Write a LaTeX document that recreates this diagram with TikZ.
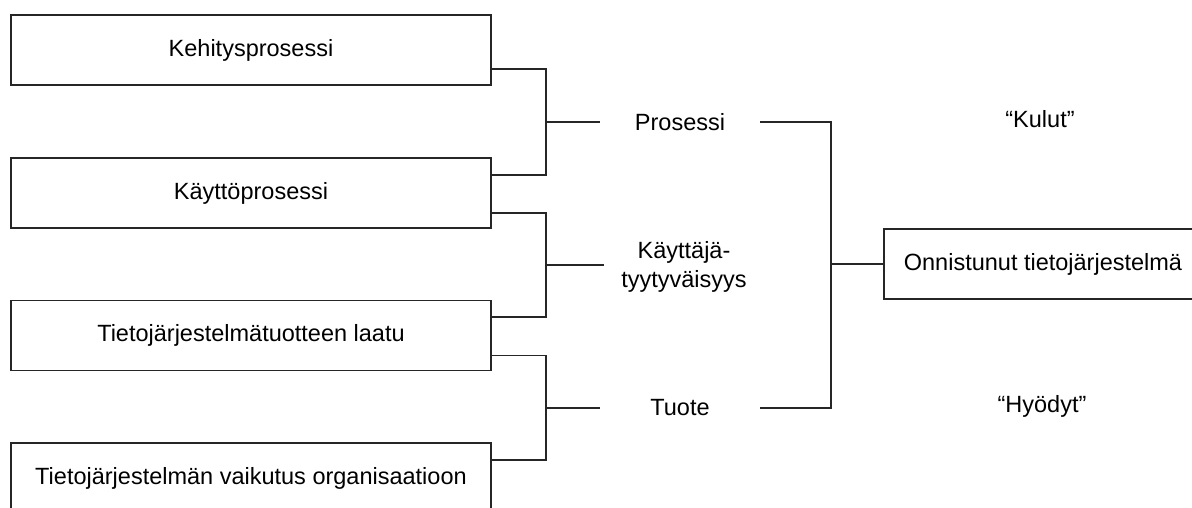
\documentclass[tikz,border=0pt]{standalone}
\usepackage{fontspec}
\setmainfont{Liberation Sans}
\begin{document}
\begin{tikzpicture}[x=1pt,y=-1pt,
  every node/.style={font=\fontsize{23.5}{29}\selectfont, text=black},
  box/.style={draw=black!85, line width=1.8pt, minimum width=480pt, minimum height=70pt, inner sep=0pt},
  okbox/.style={draw=black!85, line width=1.8pt, minimum width=318pt, minimum height=70pt, inner sep=0pt},
  mid/.style={minimum width=160pt, inner sep=0pt, align=center},
  conn/.style={draw=black!85, line width=1.8pt}]
\useasboundingbox (0,0) rectangle (1192,508);
\clip (0,0) rectangle (1192,508);
\fill[white] (0,0) rectangle (1192,508);

\node[box] (k1) at (251,50) {Kehitysprosessi};
\node[box] (k2) at (251,193) {Käyttöprosessi};
\node[box] (k3) at (251,335.5) {Tietojärjestelmätuotteen laatu};
\node[box] (k4) at (251,478) {Tietojärjestelmän vaikutus organisaatioon};

\coordinate (j1) at (546,122);
\coordinate (j2) at (546,265);
\coordinate (j3) at (546,408);
\coordinate (j4) at (831,264);

\node[mid] (p) at (680,122) {Prosessi};
\node[mid] (u) at (684,267) {Käyttäjä-\\tyytyväisyys};
\node[mid] (t) at (680,408) {Tuote};

\node[okbox] (o) at (1043,264) {Onnistunut tietojärjestelmä};
\node (ku) at (1040,119) {“Kulut”};
\node (hy) at (1042,406) {“Hyödyt”};

\draw[conn] ([yshift=17pt]k1.south east) -| (j1) |- ([yshift=-18pt]k2.north east);
\draw[conn] ([yshift=16pt]k2.south east) -| (j2) |- ([yshift=-17pt]k3.north east);
\draw[conn] ([yshift=16pt]k3.south east) -| (j3) |- ([yshift=-18pt]k4.north east);
\draw[conn] (j1) -- (p.west);
\draw[conn] (j2) -- (u.west |- j2);
\draw[conn] (j3) -- (t.west);
\draw[conn] (p.east) -| (j4) |- (t.east);
\draw[conn] (j4) -- (o.west);
\end{tikzpicture}
\end{document}
